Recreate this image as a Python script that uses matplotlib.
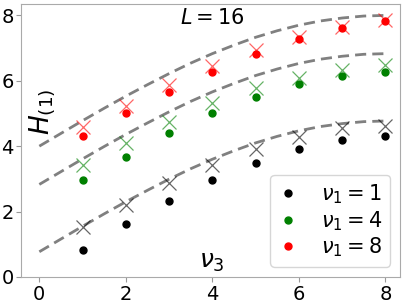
import matplotlib
matplotlib.use("Agg")
import matplotlib.pyplot as plt

# nu_3 values for the points
nu3 = [1, 2, 3, 4, 5, 6, 7, 8]

# filled dots
dots_1 = [0.83, 1.61, 2.32, 2.97, 3.50, 3.92, 4.18, 4.32]
dots_4 = [2.97, 3.68, 4.39, 5.02, 5.51, 5.89, 6.15, 6.28]
dots_8 = [4.31, 5.01, 5.66, 6.28, 6.82, 7.27, 7.61, 7.84]

# crosses
cross_1 = [1.52, 2.20, 2.87, 3.42, 3.90, 4.29, 4.55, 4.63]
cross_4 = [3.42, 4.09, 4.75, 5.31, 5.77, 6.07, 6.33, 6.48]
cross_8 = [4.60, 5.24, 5.87, 6.46, 6.94, 7.35, 7.66, 7.86]

# dashed curves
curve_x = [0, 0.5, 1, 1.5, 2, 2.5, 3, 3.5, 4, 4.5, 5, 5.5, 6, 6.5, 7, 7.5, 8]
curve_1 = [0.77, 1.16, 1.55, 1.93, 2.30, 2.65, 2.99, 3.31, 3.60, 3.86,
           4.10, 4.30, 4.47, 4.60, 4.69, 4.75, 4.77]
curve_4 = [2.83, 3.22, 3.61, 3.99, 4.36, 4.71, 5.05, 5.37, 5.66, 5.92,
           6.16, 6.36, 6.53, 6.66, 6.75, 6.81, 6.83]
curve_8 = [4.00, 4.39, 4.78, 5.16, 5.53, 5.88, 6.22, 6.54, 6.83, 7.09,
           7.33, 7.53, 7.70, 7.83, 7.92, 7.98, 8.00]

labels = [r"$\nu_1=1$", r"$\nu_1=4$", r"$\nu_1=8$"]
colors = ["black", "green", "red"]

fig = plt.figure(figsize=(4.07, 3.05), dpi=100)
ax = fig.add_axes([0.052, 0.092, 0.932, 0.894])

for c in [curve_1, curve_4, curve_8]:
    ax.plot(curve_x, c, ls="--", color="gray", lw=2, dashes=(4, 2.2))

for d, x, col, lab in zip([dots_1, dots_4, dots_8], [cross_1, cross_4, cross_8], colors, labels):
    ax.plot(nu3, x, ls="none", marker="x", ms=10, mew=0.9, color=col, alpha=0.6)
    ax.plot(nu3, d, ls="none", marker="o", ms=5, color=col, label=lab)

ax.set_xlim(-0.42, 8.35)
ax.set_ylim(0, 8.34)
ax.set_xticks([0, 2, 4, 6, 8])
ax.set_yticks([0, 2, 4, 6, 8])
ax.tick_params(labelsize=14, color="#999999", pad=2)
for s in ax.spines.values():
    s.set_color("#aaaaaa")

ax.text(4.0, 7.93, r"$L = 16$", fontsize=15, ha="center", va="center")
ax.text(4.0, 0.45, r"$\nu_3$", fontsize=18, ha="center", va="center")
ax.text(0.07, 5.05, r"$H_{(1)}$", fontsize=19, ha="center", va="center", rotation=90)

ax.legend(loc="lower right", fontsize=15, handletextpad=1.1, borderpad=0.35,
          labelspacing=0.15, handlelength=1.0, borderaxespad=0.5)

fig.savefig("out.png", dpi=100)
